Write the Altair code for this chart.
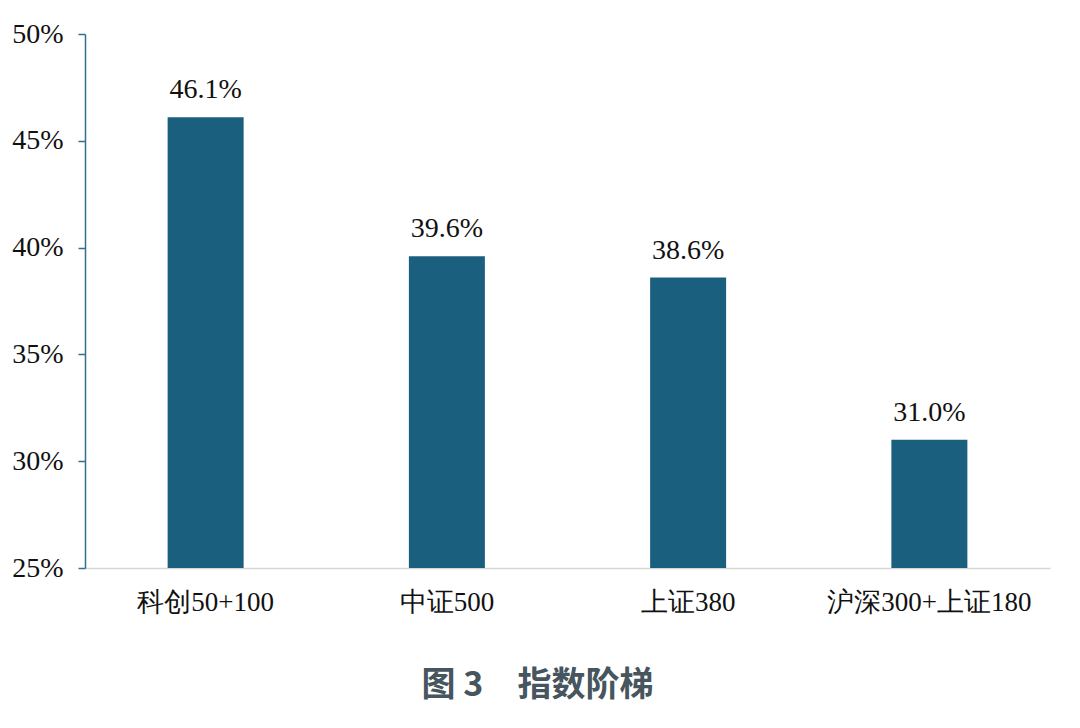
import altair as alt
import pandas as pd

categories = ["科创50+100", "中证500", "上证380", "沪深300+上证180"]
values = [46.1, 39.6, 38.6, 31.0]
labels = ["46.1%", "39.6%", "38.6%", "31.0%"]
base_value = 25

df = pd.DataFrame({"cat": categories, "val": values, "lab": labels,
                   "base": [base_value] * len(categories)})

serif = "Liberation Serif, Times New Roman, Noto Sans CJK SC"

x = alt.X("cat:N", sort=categories, title=None,
          scale=alt.Scale(paddingInner=0, paddingOuter=0),
          axis=alt.Axis(labelAngle=0, labelFont="Liberation Serif, serif",
                        labelFontSize=27,
                        labelColor="#111111", labelPadding=21, ticks=False,
                        labelLimit=0,
                        domainColor="#d6d6d6", domainWidth=1.5))

y = alt.Y("val:Q", title=None,
          scale=alt.Scale(domain=[25, 50], nice=False, zero=False),
          axis=alt.Axis(values=[25, 30, 35, 40, 45, 50],
                        labelExpr="datum.value + '%'",
                        labelFont=serif, labelFontSize=28, labelColor="#111111",
                        tickSize=7, tickColor="#2f6f8f", domainColor="#2f6f8f",
                        domainWidth=1.5, tickWidth=1.5, labelPadding=15,
                        grid=False))

bars = alt.Chart(df).mark_bar(size=76, color="#1b5f7e", clip=True).encode(
    x=x, y=y, y2="base:Q")

text = alt.Chart(df).mark_text(dy=-27, font=serif, fontSize=28,
                               color="#111111").encode(
    x=alt.X("cat:N", sort=categories), y="val:Q", text="lab:N")

chart = alt.layer(bars, text).properties(
    width=965, height=534,
    padding={"left": 77, "top": 26, "right": 22, "bottom": 140},
    autosize=alt.AutoSizeParams(type="none"),
    title=alt.TitleParams(
        "图 3\u3000指数阶梯", orient="bottom", anchor="middle",
        font="Noto Sans CJK SC", fontSize=34, fontWeight="bold",
        color="#46555e", offset=54, dx=-30)
).configure_view(stroke=None)

chart.save("out.html", embed_options={"renderer": "svg", "actions": False})
